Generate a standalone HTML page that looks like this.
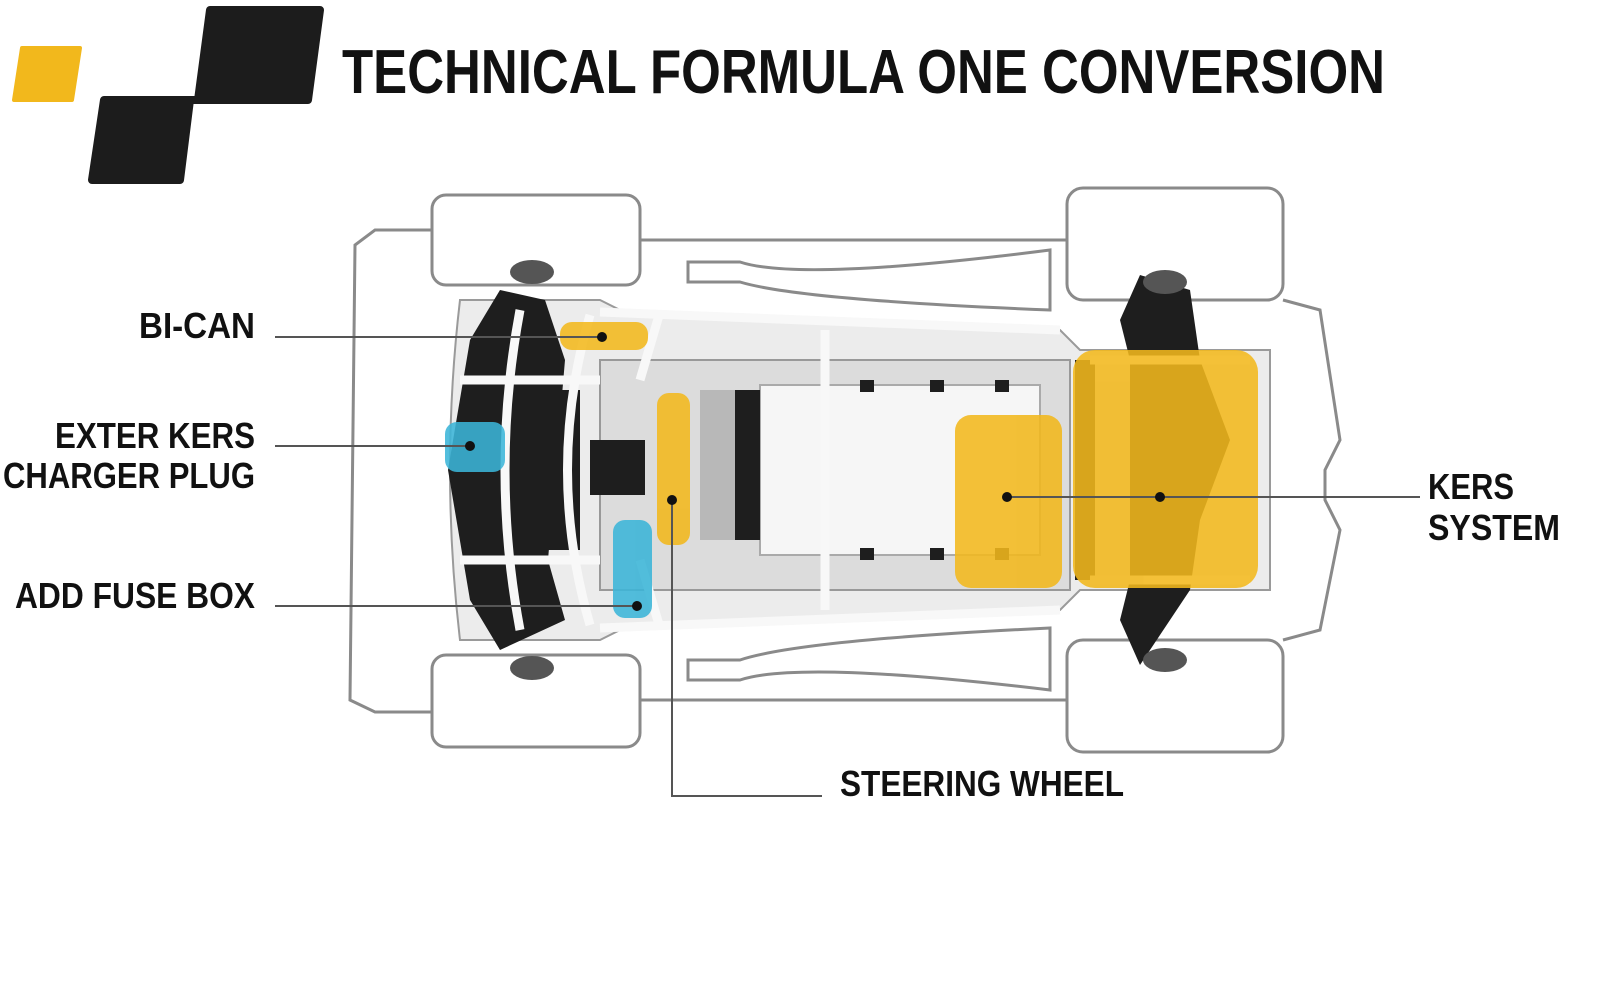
<!DOCTYPE html>
<html><head><meta charset="utf-8"><style>
body{margin:0;background:#fff;width:1600px;height:1008px;overflow:hidden}
svg{position:absolute;left:0;top:0}
text{font-family:"Liberation Sans",sans-serif;font-weight:bold;fill:#111}
</style></head><body>
<svg width="1600" height="1008" viewBox="0 0 1600 1008">
<!-- logo -->
<path d="M22 48 L80 48 L72 100 L14 100 Z" fill="#f2b81c" stroke="#f2b81c" stroke-width="4" stroke-linejoin="round"/>
<path d="M210 10 L320 10 L308 100 L190 100 L180 180 L92 180 L104 100 L198 100 Z" fill="#1c1c1c" stroke="#1c1c1c" stroke-width="8" stroke-linejoin="round"/>
<text x="342" y="93" font-size="62" textLength="1043" lengthAdjust="spacingAndGlyphs">TECHNICAL FORMULA ONE CONVERSION</text>
<!-- car outline -->
<g fill="none" stroke="#8a8a8a" stroke-width="3">
<rect x="432" y="195" width="208" height="90" rx="14"/>
<rect x="432" y="655" width="208" height="92" rx="14"/>
<rect x="1067" y="188" width="216" height="112" rx="16"/>
<rect x="1067" y="640" width="216" height="112" rx="16"/>
<path d="M640 240 L1067 240 M640 700 L1067 700"/>
<path d="M688 262 L740 262 Q800 282 1050 250 L1050 310 Q800 300 740 282 L688 282 Z"/>
<path d="M688 680 L740 680 Q800 660 1050 690 L1050 628 Q800 640 740 660 L688 660 Z"/>
<path d="M432 230 L375 230 L355 245 L350 700 L375 712 L432 712"/>
<path d="M1283 300 L1320 310 L1340 440 L1325 470 L1325 500 L1340 530 L1320 630 L1283 640"/>
</g>
<!-- chassis body -->
<path d="M460 300 L600 300 L620 310 L1060 330 L1080 350 L1270 350 L1270 590 L1080 590 L1060 610 L620 630 L600 640 L460 640 Q440 470 460 300 Z" fill="#ececec" stroke="#9a9a9a" stroke-width="2"/>
<rect x="600" y="360" width="470" height="230" fill="#dcdcdc" stroke="#999" stroke-width="2"/>
<rect x="760" y="385" width="280" height="170" fill="#f6f6f6" stroke="#aaa" stroke-width="2"/>
<g fill="#1e1e1e">
<path d="M500 290 L545 300 L565 360 L548 560 L565 620 L500 650 L470 600 L448 470 L470 340 Z"/>
<rect x="525" y="390" width="55" height="160"/>
<rect x="590" y="440" width="55" height="55"/>
<rect x="735" y="390" width="25" height="150"/>
<rect x="700" y="390" width="35" height="150" fill="#b8b8b8"/>
<path d="M1140 275 L1190 290 L1200 360 L1230 440 L1200 520 L1190 590 L1140 665 L1120 620 L1130 580 L1130 360 L1120 320 Z"/>
<rect x="1075" y="360" width="20" height="220"/>
<ellipse cx="532" cy="272" rx="22" ry="12" fill="#555"/>
<ellipse cx="532" cy="668" rx="22" ry="12" fill="#555"/>
<ellipse cx="1165" cy="282" rx="22" ry="12" fill="#555"/>
<ellipse cx="1165" cy="660" rx="22" ry="12" fill="#555"/>
<rect x="860" y="380" width="14" height="12"/><rect x="930" y="380" width="14" height="12"/><rect x="995" y="380" width="14" height="12"/>
<rect x="860" y="548" width="14" height="12"/><rect x="930" y="548" width="14" height="12"/><rect x="995" y="548" width="14" height="12"/>
</g>
<g stroke="#f8f8f8" stroke-width="9" fill="none">
<path d="M600 312 L1060 330 M600 628 L1060 610 M825 330 L825 610 M660 312 L640 380 M660 628 L640 560 M590 315 Q545 470 590 625 M520 310 Q490 470 520 630 M460 380 L600 380 M460 560 L600 560 M1090 360 L1250 360 M1090 580 L1250 580"/>
</g>
<!-- highlights -->
<g opacity="0.88">
<rect x="560" y="322" width="88" height="28" rx="12" fill="#f2b81c"/>
<rect x="657" y="393" width="33" height="152" rx="12" fill="#f2b81c"/>
<rect x="955" y="415" width="107" height="173" rx="16" fill="#f2b81c"/>
<rect x="1073" y="350" width="185" height="238" rx="22" fill="#f2b81c"/>
<rect x="445" y="422" width="60" height="50" rx="12" fill="#3bb5d8"/>
<rect x="613" y="520" width="39" height="98" rx="12" fill="#3bb5d8"/>
</g>
<!-- leader lines -->
<g stroke="#555" stroke-width="2" fill="none">
<path d="M275 337 L602 337"/><path d="M275 446 L470 446"/><path d="M275 606 L637 606"/>
<path d="M672 500 L672 796 L822 796"/><path d="M1007 497 L1420 497"/>
</g>
<g fill="#111"><circle cx="602" cy="337" r="5"/><circle cx="470" cy="446" r="5"/><circle cx="637" cy="606" r="5"/><circle cx="672" cy="500" r="5"/><circle cx="1007" cy="497" r="5"/><circle cx="1160" cy="497" r="5"/></g>
<!-- labels -->
<g font-size="36">
<text x="255" y="338" text-anchor="end" textLength="116" lengthAdjust="spacingAndGlyphs">BI-CAN</text>
<text x="255" y="448" text-anchor="end" textLength="200" lengthAdjust="spacingAndGlyphs">EXTER KERS</text>
<text x="255" y="488" text-anchor="end" textLength="252" lengthAdjust="spacingAndGlyphs">CHARGER PLUG</text>
<text x="255" y="608" text-anchor="end" textLength="240" lengthAdjust="spacingAndGlyphs">ADD FUSE BOX</text>
<text x="1428" y="499" textLength="86" lengthAdjust="spacingAndGlyphs">KERS</text>
<text x="1428" y="540" textLength="132" lengthAdjust="spacingAndGlyphs">SYSTEM</text>
<text x="840" y="796" textLength="284" lengthAdjust="spacingAndGlyphs">STEERING WHEEL</text>
</g>
</svg>
</body></html>
